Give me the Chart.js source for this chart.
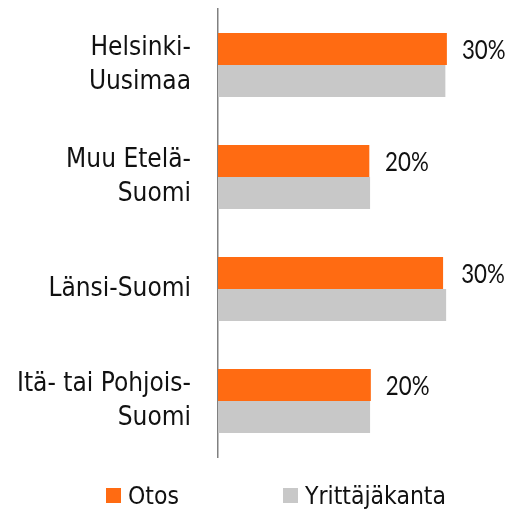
<!DOCTYPE html>
<html>
<head>
<meta charset="utf-8">
<script src="https://cdn.jsdelivr.net/npm/chart.js@4"></script>
<style>
  body { margin: 0; background: #fff; }
  #wrap { position: relative; width: 510px; height: 509px; }
  .leg { position: absolute; top: 480px; height: 30px; display: flex; align-items: center;
         font-family: 'DejaVu Sans Condensed', 'DejaVu Sans', sans-serif; font-size: 24.5px; color: #111; }
  .leg span.box { display: inline-block; width: 15px; height: 15px; margin-right: 7px; }
</style>
</head>
<body>
<div id="wrap">
  <canvas id="myChart" width="510" height="509"></canvas>
  <div class="leg" style="left:106px"><span class="box" style="background:#ff6b12"></span>Otos</div>
  <div class="leg" style="left:283px"><span class="box" style="background:#c8c8c8"></span>Yrittäjäkanta</div>
</div>
<script>
const categories = [
    ['Helsinki-', 'Uusimaa'],
    ['Muu Etelä-', 'Suomi'],
    ['Länsi-Suomi'],
    ['Itä- tai Pohjois-', 'Suomi'],
];
const otos = [30.1, 19.9, 29.6, 20.1];
const yrittajakanta = [29.9, 20.0, 30.0, 20.0];

// percent labels to the right of each bar pair
const valueLabels = {
    id: 'valueLabels',
    afterDatasetsDraw(chart) {
        const ctx = chart.ctx;
        const m0 = chart.getDatasetMeta(0);
        const m1 = chart.getDatasetMeta(1);
        ctx.save();
        ctx.font = "26.5px Lato, 'DejaVu Sans Condensed', sans-serif";
        ctx.fillStyle = '#111';
        ctx.textAlign = 'left';
        ctx.textBaseline = 'middle';
        m0.data.forEach((bar, i) => {
            const end = Math.max(bar.x, m1.data[i].x) + 15;
            ctx.save();
            ctx.translate(end, bar.y + 1);
            ctx.scale(0.84, 1);
            ctx.fillText(Math.round(otos[i]) + '%', 0, 0);
            ctx.restore();
        });
        ctx.restore();
    },
};

window.onload = function () {
    const ctx = document.getElementById('myChart').getContext('2d');
    new Chart(ctx, {
        type: 'bar',
        data: {
            labels: categories,
            datasets: [
                { label: 'Otos', data: otos, backgroundColor: '#ff6b12' },
                { label: 'Yrittäjäkanta', data: yrittajakanta, backgroundColor: '#c8c8c8' },
            ],
        },
        options: {
            indexAxis: 'y',
            responsive: false,
            animation: false,
            categoryPercentage: 0.572,
            barPercentage: 1,
            layout: { padding: { top: 9, bottom: 52, left: 0, right: 0 } },
            plugins: {
                legend: { display: false },
                tooltip: { enabled: false },
            },
            scales: {
                x: {
                    display: false,
                    min: 0,
                    max: 38.4,
                },
                y: {
                    grid: { display: false, drawTicks: false },
                    border: { display: true, color: '#808080', width: 1.5 },
                    ticks: {
                        color: '#111',
                        padding: 27,
                        font: { family: "'DejaVu Sans Condensed', 'DejaVu Sans', sans-serif", size: 26, lineHeight: 1.3 },
                    },
                    afterFit(scale) {
                        scale.width = 218;
                        scale.paddingTop = 0;
                        scale.paddingBottom = 0;
                    },
                },
            },
        },
        plugins: [valueLabels],
    });
};
</script>
</body>
</html>
